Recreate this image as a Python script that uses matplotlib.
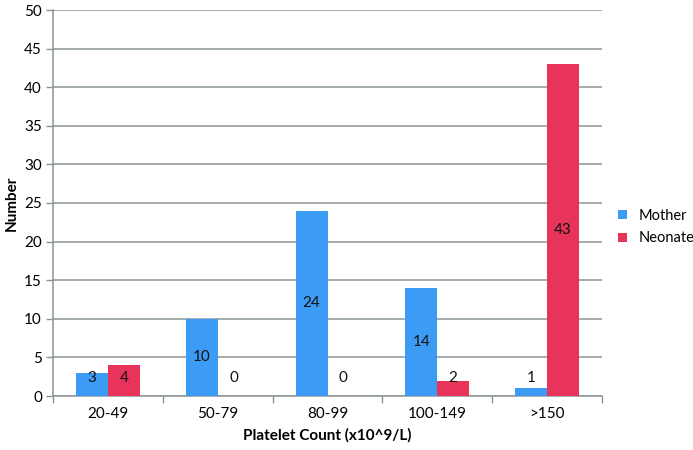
import numpy as np
import matplotlib.pyplot as plt

plt.rcParams['font.family'] = ['Lato', 'DejaVu Sans']

categories = ["20-49", "50-79", "80-99", "100-149", ">150"]
mother = [3, 10, 24, 14, 1]
neonate = [4, 0, 0, 2, 43]

BLUE = "#3C9BF4"
RED = "#E8335A"
GRID = "#8C9497"

fig = plt.figure(figsize=(6.93, 4.5), dpi=100)
ax = fig.add_axes([53 / 693, 1 - 396 / 450, 549 / 693, 386 / 450])

x = np.arange(len(categories))
w = 0.29
ax.bar(x - w / 2, mother, w, color=BLUE, label="Mother", zorder=3)
ax.bar(x + w / 2, neonate, w, color=RED, label="Neonate", zorder=3)

# value labels: centred in the bar, pushed up when the bar is too short
for xs, vals in [(x - w / 2, mother), (x + w / 2, neonate)]:
    for xi, v in zip(xs, vals):
        ax.text(xi, max(v / 2, 2.3), str(v), ha="center", va="center",
                fontsize=11, color="#111111", zorder=4)

ax.set_xlim(-0.5, len(categories) - 0.5)
ax.set_ylim(0, 50)
ax.set_yticks(np.arange(0, 51, 5))
ax.yaxis.grid(True, color=GRID, lw=1.1, zorder=0)

ax.set_xticks(np.arange(-0.5, len(categories), 1.0))
ax.set_xticklabels([])
ax.set_xticks(x, minor=True)
ax.set_xticklabels(categories, minor=True)
ax.tick_params(axis="x", which="major", length=5, color=GRID, width=1)
ax.tick_params(axis="x", which="minor", length=0, pad=8, labelsize=11)
ax.tick_params(axis="y", length=5, color=GRID, width=1, labelsize=11, pad=3)

for s in ["top", "right"]:
    ax.spines[s].set_visible(False)
for s in ["left", "bottom"]:
    ax.spines[s].set_color(GRID)
    ax.spines[s].set_linewidth(1.1)

ax.set_xlabel("Platelet Count (x10^9/L)", fontsize=11, fontweight="bold", labelpad=5)
ax.set_ylabel("Number", fontsize=11, fontweight="bold", labelpad=4)

fig.legend(loc="center left", bbox_to_anchor=(608 / 693, 1 - 227 / 450),
           frameon=False, fontsize=10.5, handlelength=0.6, handleheight=0.6,
           handletextpad=0.8, labelspacing=0.6, borderpad=0.2)

fig.savefig("out.png", dpi=100)
